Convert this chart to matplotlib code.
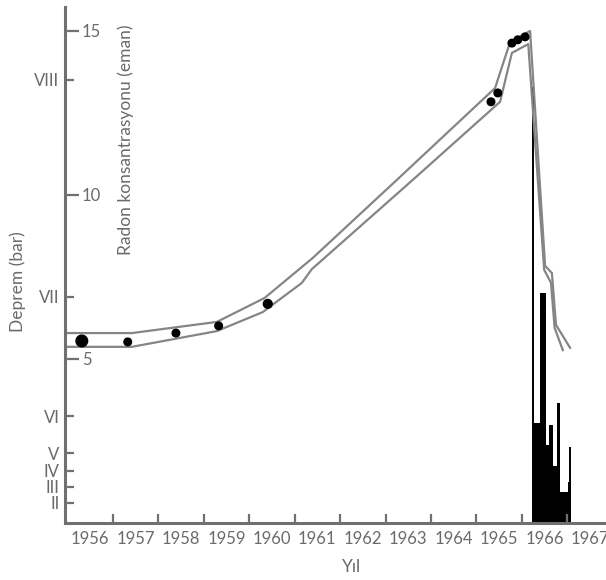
import matplotlib
matplotlib.use("Agg")
import matplotlib.pyplot as plt
from matplotlib.ticker import FixedLocator, NullFormatter

plt.rcParams['font.family'] = ['Lato', 'DejaVu Sans']

# Radon bandının üst ve alt sınırları (yıl, eman)
ust_yil = [1955.95, 1957.42, 1959.29, 1960.34, 1961.40, 1963.25, 1965.41, 1965.74,
           1966.18, 1966.51, 1966.66, 1966.75, 1967.06]
ust_radon = [5.79, 5.79, 6.13, 6.86, 8.08, 10.46, 13.26, 14.66,
             15.00, 7.84, 7.62, 6.04, 5.34]
alt_yil = [1955.95, 1957.42, 1959.29, 1960.30, 1961.16, 1961.38, 1963.60, 1965.52,
           1965.78, 1966.14, 1966.49, 1966.64, 1966.72, 1966.90]
alt_radon = [5.37, 5.37, 5.85, 6.43, 7.32, 7.74, 10.46, 12.84,
             14.33, 14.60, 7.72, 7.32, 5.95, 5.27]

# Ölçüm noktaları
nokta_yil = [1956.32, 1957.33, 1958.39, 1959.33, 1960.41, 1965.32, 1965.47,
             1965.78, 1965.91, 1966.07]
nokta_radon = [5.55, 5.52, 5.79, 6.01, 6.68, 12.84, 13.11, 14.63, 14.73, 14.82]
nokta_boy = [70, 30, 30, 30, 40, 30, 30, 30, 30, 30]

# Deprem çubukları (sol kenar, genişlik, yükseklik)
cubuk_sol = [1966.243, 1966.397, 1966.529, 1966.595, 1966.683, 1966.771, 1966.837, 1967.013]
cubuk_gen = [0.154, 0.132, 0.066, 0.088, 0.088, 0.066, 0.176, 0.066]
cubuk_yuk = [3.05, 7.01, 2.38, 2.99, 1.74, 3.66, 0.95, 1.25]
ince_yil = [1966.243, 1967.057]
ince_yuk = [13.3, 2.32]

# Eksen etiketleri
yillar = list(range(1956, 1968))
siddet_etiket = ['VIII', 'VII', 'VI', 'V', 'IV', 'III', 'II']
siddet_konum = [13.51, 6.89, 3.26, 2.13, 1.59, 1.10, 0.61]
radon_tik = [5, 10, 15]

gri = '#707070'
yazi = '#6a6a6a'

fig = plt.figure(figsize=(6.06, 5.8), dpi=100)
ax = fig.add_axes([65 / 606, 57 / 580, 541 / 606, 516 / 580])

ax.bar(cubuk_sol, cubuk_yuk, width=cubuk_gen, align='edge', color='black', linewidth=0)
ax.vlines(ince_yil, 0, ince_yuk, color='black', linewidth=1.4)

ax.plot(ust_yil, ust_radon, color='#858585', linewidth=1.6)
ax.plot(alt_yil, alt_radon, color='#858585', linewidth=1.6)
ax.scatter(nokta_yil, nokta_radon, s=nokta_boy, color='black', zorder=5)

ax.set_xlim(1955.95, 1967.85)
ax.set_ylim(0, 15.73)

for s in ['top', 'right']:
    ax.spines[s].set_visible(False)
for s in ['left', 'bottom']:
    ax.spines[s].set_color(gri)
    ax.spines[s].set_linewidth(2.2)

# X ekseni: tikler yıl sınırlarında, etiketler aralık ortasında
ax.xaxis.set_major_locator(FixedLocator(yillar[1:]))
ax.xaxis.set_major_formatter(NullFormatter())
ax.xaxis.set_minor_locator(FixedLocator([y + 0.5 for y in yillar]))
ax.set_xticklabels([str(y) for y in yillar], minor=True)
ax.tick_params(axis='x', which='major', direction='in', length=6.5, width=1.6, color=gri)
ax.tick_params(axis='x', which='minor', length=0, pad=6, labelsize=12, labelcolor=yazi)

# Sol eksen: deprem şiddeti
ax.set_yticks(siddet_konum)
ax.set_yticklabels(siddet_etiket)
ax.tick_params(axis='y', direction='in', length=6.5, width=1.6, color=gri, pad=4,
               labelsize=12, labelcolor=yazi)

# Radon ekseni, aynı sol çizgi üzerinde, sağa doğru
ax2 = ax.twinx()
ax2.set_ylim(ax.get_ylim())
ax2.spines['right'].set_position(('axes', 0))
ax2.spines['right'].set_visible(False)
ax2.spines['top'].set_visible(False)
ax2.spines['left'].set_visible(False)
ax2.spines['bottom'].set_visible(False)
ax2.set_yticks(radon_tik)
ax2.tick_params(axis='y', direction='out', length=10, width=1.6, color=gri, pad=2,
                labelsize=12, labelcolor=yazi)

fig.text(18 / 606, 1 - 282 / 580, 'Deprem (bar)', rotation=90, ha='center', va='center',
         fontsize=12.5, color=yazi)
fig.text(126 / 606, 1 - 140 / 580, 'Radon konsantrasyonu (eman)', rotation=90,
         ha='center', va='center', fontsize=12.5, color=yazi)
fig.text(352 / 606, 1 - 567 / 580, 'Yıl', ha='center', va='center', fontsize=12.5, color=yazi)

fig.savefig('out.png', dpi=100)
